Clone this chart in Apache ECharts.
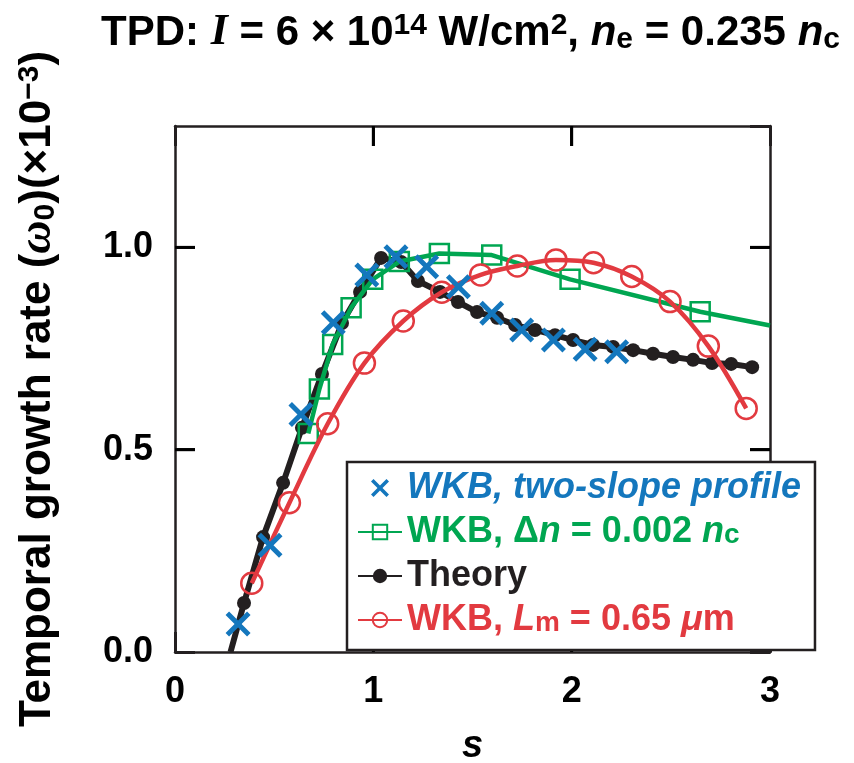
<!DOCTYPE html>
<html><head><meta charset="utf-8">
<script src="https://cdn.jsdelivr.net/npm/echarts@6/dist/echarts.min.js"></script>
<style>html,body{margin:0;padding:0;background:#fff}#c{width:854px;height:763px}</style>
</head><body><div id="c"></div>
<script>
// ---- data ----
const xTicks = [0, 1, 2, 3];
const yTicks = ['0.0', '0.5', '1.0'];

const theoryS = [0.28, 0.348, 0.444, 0.545, 0.640, 0.741, 0.842, 0.933, 1.039, 1.140, 1.225, 1.336, 1.427, 1.523, 1.624, 1.715, 1.815, 1.916, 2.007, 2.108, 2.209, 2.310, 2.410, 2.511, 2.612, 2.708, 2.804, 2.910];
const theoryG = [0.0, 0.121, 0.284, 0.418, 0.554, 0.687, 0.813, 0.890, 0.974, 0.964, 0.917, 0.890, 0.865, 0.840, 0.826, 0.808, 0.796, 0.783, 0.771, 0.759, 0.754, 0.746, 0.737, 0.729, 0.722, 0.714, 0.712, 0.704];

const twoSlopeS = [0.318, 0.479, 0.635, 0.798, 0.967, 1.114, 1.269, 1.429, 1.597, 1.748, 1.908, 2.068, 2.227];
const twoSlopeG = [0.069, 0.264, 0.587, 0.814, 0.932, 0.977, 0.952, 0.903, 0.837, 0.796, 0.771, 0.748, 0.742];

const dnS = [0.672, 0.728, 0.795, 0.888, 0.997, 1.131, 1.333, 1.597, 1.992, 2.648, 3.0];
const dnG = [0.540, 0.650, 0.760, 0.851, 0.921, 0.965, 0.985, 0.981, 0.921, 0.841, 0.807];

const lmS = [0.387, 0.577, 0.770, 0.955, 1.151, 1.345, 1.541, 1.726, 1.921, 2.110, 2.303, 2.496, 2.689, 2.880];
const lmG = [0.170, 0.369, 0.564, 0.714, 0.818, 0.889, 0.932, 0.954, 0.969, 0.962, 0.928, 0.866, 0.756, 0.602];

const names = ['WKB, two-slope profile', 'WKB, \u0394n = 0.002 nc', 'Theory', 'WKB, Lm = 0.65 \u03bcm'];

// ---- styles ----
const BLUE = '#1477bd', GREEN = '#00a651', BLACK = '#231f20', RED = '#e23a40';
const FONT = '"Liberation Sans", Arial, Helvetica, sans-serif';
const XPATH = 'path://M0,1.4L1.4,0L5,3.6L8.6,0L10,1.4L6.4,5L10,8.6L8.6,10L5,6.4L1.4,10L0,8.6L3.6,5Z';
const X_MIN = 0, X_MAX = 3, Y_MIN = 0, Y_MAX = 1.3;

function pairs(xs, ys, noSymbolIdx) {
  return xs.map((x, i) => (noSymbolIdx && noSymbolIdx.includes(i))
    ? { value: [x, ys[i]], symbol: 'none' } : [x, ys[i]]);
}
function mkAxisLine() { return { show: true, onZero: false, lineStyle: { color: BLACK, width: 2.5 } }; }
function mkTick() { return { show: true, inside: true, length: 20, lineStyle: { color: BLACK, width: 3 } }; }

const chart = echarts.init(document.getElementById('c'));

const legendRich = {
  b: { color: BLUE, fontStyle: 'italic', fontWeight: 'bold', fontSize: 36, fontFamily: FONT, lineHeight: 34 },
  g: { color: GREEN, fontWeight: 'bold', fontSize: 36, fontFamily: FONT, lineHeight: 34 },
  gi: { color: GREEN, fontWeight: 'bold', fontStyle: 'italic', fontSize: 36, fontFamily: FONT, lineHeight: 34 },
  gs: { color: GREEN, fontWeight: 'bold', fontSize: 28, fontFamily: FONT, lineHeight: 16, verticalAlign: 'bottom' },
  k: { color: BLACK, fontWeight: 'bold', fontSize: 36, fontFamily: FONT, lineHeight: 34 },
  r: { color: RED, fontWeight: 'bold', fontSize: 36, fontFamily: FONT, lineHeight: 34 },
  ri: { color: RED, fontWeight: 'bold', fontStyle: 'italic', fontSize: 36, fontFamily: FONT, lineHeight: 34 },
  rs: { color: RED, fontWeight: 'bold', fontSize: 28, fontFamily: FONT, lineHeight: 16, verticalAlign: 'bottom' }
};
const legendFmt = {};
legendFmt[names[0]] = '{b|WKB, two-slope profile}';
legendFmt[names[1]] = '{g|WKB, \u0394}{gi|n}{g| = 0.002 }{gi|n}{gs|c}';
legendFmt[names[2]] = '{k|Theory}';
legendFmt[names[3]] = '{r|WKB, }{ri|L}{rs|m}{r| = 0.65 }{ri|\u03bc}{r|m}';

const option = {
  animation: false,
  title: {
    left: 96, top: 6,
    text: '{t|TPD: }{ti|I}{t| = 6 \u00d7 10}{p|14}{t| W/cm}{p|2}{t|, }{tn|n}{s|e}{t| = 0.235 }{tn|n}{s|c}',
    textStyle: {
      rich: {
        t: { fontSize: 42, fontWeight: 'bold', color: '#000', fontFamily: FONT, lineHeight: 44 },
        ti: { fontSize: 44, fontWeight: 'bold', fontStyle: 'italic', color: '#000', fontFamily: '"Liberation Serif", "DejaVu Serif", serif', lineHeight: 44 },
        tn: { fontSize: 42, fontWeight: 'bold', fontStyle: 'italic', color: '#000', fontFamily: FONT, lineHeight: 44 },
        p: { fontSize: 30, fontWeight: 'bold', color: '#000', fontFamily: FONT, lineHeight: 24, verticalAlign: 'top' },
        s: { fontSize: 30, fontWeight: 'bold', color: '#000', fontFamily: FONT, lineHeight: 22, verticalAlign: 'bottom' }
      }
    }
  },
  grid: { left: 175, right: 84, top: 126, bottom: 111, outerBoundsMode: 'none' },
  xAxis: [
    {
      type: 'value', min: X_MIN, max: X_MAX, interval: 1, position: 'bottom',
      axisLine: mkAxisLine(), axisTick: mkTick(), splitLine: { show: false },
      axisLabel: { fontSize: 36, fontWeight: 'bold', color: '#000', fontFamily: FONT, margin: 22,
        formatter: v => { const i = xTicks.indexOf(Math.round(v)); return i >= 0 ? String(xTicks[i]) : ''; } },
      name: 's', nameLocation: 'middle', nameGap: 76,
      nameTextStyle: { fontSize: 38, fontWeight: 'bold', fontStyle: 'italic', color: '#000', fontFamily: FONT }
    },
    {
      type: 'value', min: X_MIN, max: X_MAX, interval: 1, position: 'top',
      axisLine: mkAxisLine(), axisTick: mkTick(), splitLine: { show: false },
      axisLabel: { show: false }
    }
  ],
  yAxis: [
    {
      type: 'value', min: Y_MIN, max: Y_MAX, interval: 0.5, position: 'left',
      axisLine: mkAxisLine(), axisTick: mkTick(), splitLine: { show: false },
      axisLabel: { fontSize: 36, fontWeight: 'bold', color: '#000', fontFamily: FONT, margin: 22, showMaxLabel: false,
        formatter: v => { const i = Math.round(v / 0.5); return (Math.abs(v - i * 0.5) < 1e-6 && yTicks[i]) ? yTicks[i] : ''; } },
      name: '{n|Temporal growth rate (}{w|\u03c9}{s|0}{n|)(\u00d710}{p|\u22123}{n|)}',
      nameLocation: 'middle', nameGap: 114, nameRotate: 90,
      nameTextStyle: {
        rich: {
          n: { fontSize: 44, fontWeight: 'bold', color: '#000', fontFamily: FONT, lineHeight: 46 },
          w: { fontSize: 46, fontWeight: 'bold', fontStyle: 'italic', color: '#000', fontFamily: '"Liberation Serif", serif', lineHeight: 46 },
          s: { fontSize: 30, fontWeight: 'bold', color: '#000', fontFamily: FONT, lineHeight: 24, verticalAlign: 'bottom' },
          p: { fontSize: 30, fontWeight: 'bold', color: '#000', fontFamily: FONT, lineHeight: 24, verticalAlign: 'top' }
        }
      }
    },
    {
      type: 'value', min: Y_MIN, max: Y_MAX, interval: 0.5, position: 'right',
      axisLine: mkAxisLine(), axisTick: mkTick(), splitLine: { show: false },
      axisLabel: { show: false }
    }
  ],
  legend: {
    orient: 'vertical', left: 347, top: 462, z: 20,
    backgroundColor: '#fff', borderColor: BLACK, borderWidth: 2.5, borderRadius: 0,
    padding: [8, 14, 12, 10], itemGap: 8, itemWidth: 44, itemHeight: 18,
    data: [
      { name: names[0], icon: XPATH },
      { name: names[1] },
      { name: names[2] },
      { name: names[3] }
    ],
    formatter: n => legendFmt[n],
    textStyle: { rich: legendRich }
  },
  series: [
    {
      name: names[2], type: 'line', z: 2,
      data: pairs(theoryS, theoryG, [0]),
      symbol: 'circle', symbolSize: 14,
      itemStyle: { color: BLACK },
      lineStyle: { color: BLACK, width: 6 }
    },
    {
      name: names[1], type: 'line', z: 3,
      data: pairs(dnS, dnG, [dnS.length - 1]),
      symbol: 'rect', symbolSize: 19,
      itemStyle: { color: 'rgba(255,255,255,0)', borderColor: GREEN, borderWidth: 2.5 },
      lineStyle: { color: GREEN, width: 4.5 }
    },
    {
      name: names[3], type: 'line', z: 4, smooth: 0.35,
      data: pairs(lmS, lmG),
      symbol: 'circle', symbolSize: 21,
      itemStyle: { color: 'rgba(255,255,255,0)', borderColor: RED, borderWidth: 2.5 },
      lineStyle: { color: RED, width: 4.5 }
    },
    {
      name: names[0], type: 'scatter', z: 5,
      data: pairs(twoSlopeS, twoSlopeG),
      symbol: XPATH, symbolSize: 25,
      itemStyle: { color: BLUE, opacity: 1 }
    }
  ]
};
chart.setOption(option);

// Inward frame ticks on all four sides, positioned through the chart's own axes
// (filled rects above the series, below the legend box).
(function addFrameTicks() {
  const L = 20, W = 3, els = [];
  const finders = [{ seriesIndex: 0 }, { gridIndex: 0 }, { xAxisIndex: 0, yAxisIndex: 0 }];
  const toPx = (x, y) => {
    for (const f of finders) {
      let p = null;
      try { p = chart.convertToPixel(f, [x, y]); } catch (e) { p = null; }
      if (p && isFinite(p[0]) && isFinite(p[1])) return p;
    }
    return null;
  };
  const box = (x, y, w, h) => ({ type: 'rect', silent: true, z: 10,
    shape: { x, y, width: w, height: h }, style: { fill: '#000' } });
  yTicks.map(parseFloat).filter(v => v > Y_MIN && v < Y_MAX).forEach(v => {
    const a = toPx(X_MIN, v), b = toPx(X_MAX, v);
    if (a) els.push(box(a[0], a[1] - W / 2, L, W));
    if (b) els.push(box(b[0] - L, b[1] - W / 2, L, W));
  });
  xTicks.filter(v => v > X_MIN && v < X_MAX).forEach(v => {
    const a = toPx(v, Y_MIN), b = toPx(v, Y_MAX);
    if (a) els.push(box(a[0] - W / 2, a[1] - L, W, L));
    if (b) els.push(box(b[0] - W / 2, b[1], W, L));
  });
  chart.setOption({ graphic: els });
})();
</script>
</body></html>
